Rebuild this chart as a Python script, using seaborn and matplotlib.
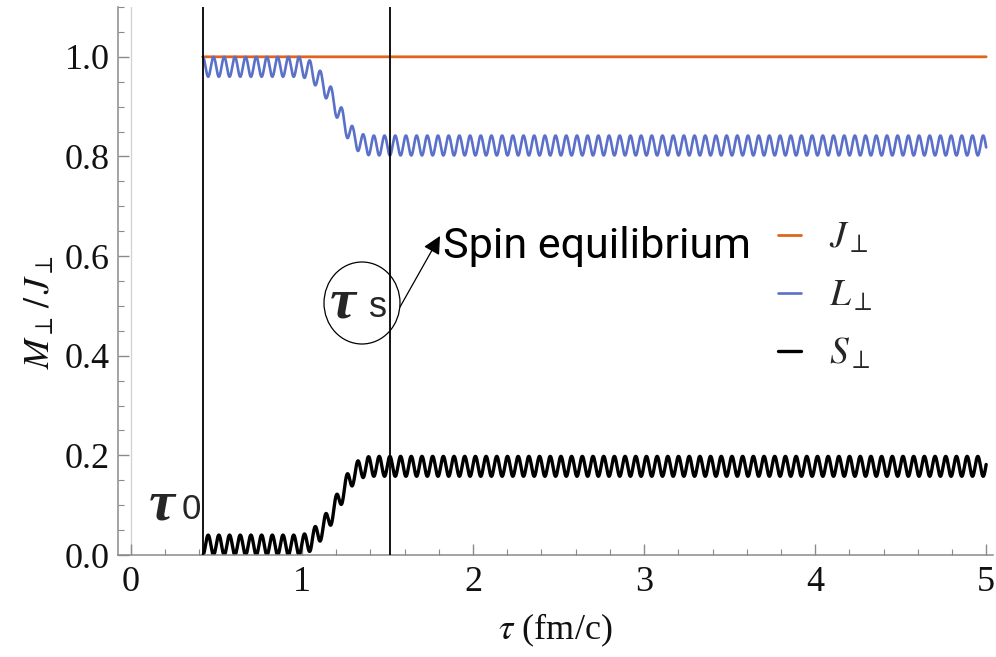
import numpy as np
import pandas as pd
import matplotlib
matplotlib.use("Agg")
import matplotlib.pyplot as plt
import seaborn as sns
from matplotlib.patches import Ellipse
from matplotlib.ticker import MultipleLocator

# ---- data -------------------------------------------------------------
tau0 = 0.42          # initial proper time (fm/c)
tau_s = 1.515        # spin equilibration time (fm/c)
period = 0.0625      # oscillation period of L and S (fm/c)
t_end = 5.0

# slowly varying centre and half-amplitude of the oscillating components
t_knots = [0.42, 1.00, 1.05, 1.10, 1.15, 1.20, 1.25, 1.30, 1.35, 1.40, 5.00]
s_mean  = [0.020, 0.020, 0.028, 0.045, 0.068, 0.100, 0.135, 0.162, 0.175, 0.178, 0.178]
l_mean  = [0.980, 0.980, 0.972, 0.955, 0.932, 0.900, 0.865, 0.838, 0.825, 0.822, 0.822]
amp     = [0.020, 0.020, 0.020, 0.020, 0.020, 0.020, 0.020, 0.020, 0.020, 0.020, 0.020]
j_level = 1.0

x_ticks = [0, 1, 2, 3, 4, 5]
y_ticks = [0.0, 0.2, 0.4, 0.6, 0.8, 1.0]

# ---- curves -------------------------------------------------------------
t = np.linspace(tau0, t_end, 6000)
wave = np.cos(2 * np.pi * (t - tau0) / period)
a = np.interp(t, t_knots, amp)
S = np.interp(t, t_knots, s_mean) - a * wave
L = np.interp(t, t_knots, l_mean) + a * wave
J = np.full_like(t, j_level)

df = pd.DataFrame({"tau": t, "J": J, "L": L, "S": S})

# ---- style ----------------------------------------------------------------
sns.set_theme(style="ticks")
plt.rcParams["font.family"] = ["Liberation Serif", "DejaVu Serif"]
plt.rcParams["mathtext.fontset"] = "stix"

W, H = 996, 657
fig = plt.figure(figsize=(W / 100, H / 100), dpi=100)
fig.patch.set_facecolor("white")


def fx(x):
    return x / W


def fy(y):
    return 1 - y / H


ax = fig.add_axes([fx(118), fy(555), fx(993) - fx(118), fy(7) - fy(555)])
ax.set_facecolor("white")

c_j = "#E0651C"
c_l = "#5B70C9"
c_s = "#000000"

# faint y axis at tau = 0
ax.axvline(0, color="#d4d4d4", lw=1.0, zorder=0)

sns.lineplot(data=df, x="tau", y="J", ax=ax, color=c_j, lw=2.0, sort=False,
             label=r"$J_{\perp}$")
sns.lineplot(data=df, x="tau", y="L", ax=ax, color=c_l, lw=1.9, sort=False,
             label=r"$L_{\perp}$")
sns.lineplot(data=df, x="tau", y="S", ax=ax, color=c_s, lw=2.4, sort=False,
             label=r"$S_{\perp}$")

# initial and equilibration times
ax.axvline(tau0, color="black", lw=1.3, zorder=3)
ax.axvline(tau_s, color="black", lw=1.3, zorder=3)

ax.set_xlim(-0.076, 5.04)
ax.set_ylim(0, 1.1)
ax.set_xticks(x_ticks)
ax.set_yticks(y_ticks)
ax.set_xticklabels([str(v) for v in x_ticks])
ax.set_yticklabels([f"{v:.1f}" for v in y_ticks])
ax.xaxis.set_minor_locator(MultipleLocator(0.2))
ax.yaxis.set_minor_locator(MultipleLocator(0.05))

frame = "#8a8a8a"
for side in ("top", "right"):
    ax.spines[side].set_visible(False)
for side in ("left", "bottom"):
    ax.spines[side].set_color(frame)
    ax.spines[side].set_linewidth(1.1)

ax.tick_params(axis="both", which="major", direction="in", length=8, width=1,
               color=frame, labelsize=26, labelcolor="#111111")
ax.tick_params(axis="both", which="minor", direction="in", length=4, width=0.8,
               color=frame)
ax.tick_params(axis="x", which="major", pad=8)
ax.tick_params(axis="y", which="major", pad=6)

ax.set_xlabel("")
ax.set_ylabel("")
fig.text(fx(555), fy(630), r"$\tau$ (fm/c)", ha="center", va="center",
         fontsize=26, color="#111111")
fig.text(fx(40), fy(312), r"$M_{\perp}\,/\,J_{\perp}$", ha="center",
         va="center", rotation=90, fontsize=26, color="#111111")

# legend
ax.legend(loc="center left", bbox_to_anchor=(fx(778), fy(297)),
          bbox_transform=fig.transFigure, frameon=False, fontsize=27,
          handlelength=0.6, handletextpad=0.75, labelspacing=0.62,
          borderpad=0, borderaxespad=0)

# tau_0 marker
fig.text(fx(149), fy(519), "τ", fontsize=42, fontstyle="italic",
         fontweight="bold", family=["Liberation Serif", "DejaVu Serif"],
         ha="left", va="baseline")
fig.text(fx(182), fy(519), "0", fontsize=25,
         family=["Liberation Sans", "DejaVu Sans"], ha="left", va="baseline")

# tau_s marker in a circle
fig.text(fx(330), fy(317), "τ", fontsize=42, fontstyle="italic",
         fontweight="bold", family=["Liberation Serif", "DejaVu Serif"],
         ha="left", va="baseline")
fig.text(fx(369), fy(317), "s", fontsize=26,
         family=["Liberation Sans", "DejaVu Sans"], ha="left", va="baseline")
circ = Ellipse((fx(362), fy(303)), width=fx(76), height=82 / H,
               transform=fig.transFigure, fill=False, edgecolor="black",
               lw=0.9)
fig.add_artist(circ)

# arrow to the label
ax.annotate("", xy=(fx(440), fy(236)), xycoords="figure fraction",
            xytext=(fx(400), fy(307)), textcoords="figure fraction",
            arrowprops=dict(arrowstyle="-|>,head_length=0.9,head_width=0.45",
                            color="black", lw=0.9, shrinkA=0, shrinkB=0))
fig.text(fx(443), fy(258), "Spin equilibrium", fontsize=31,
         family=["Roboto", "DejaVu Sans"],
         ha="left", va="baseline", color="black")

fig.savefig("out.png", dpi=100, facecolor="white")
